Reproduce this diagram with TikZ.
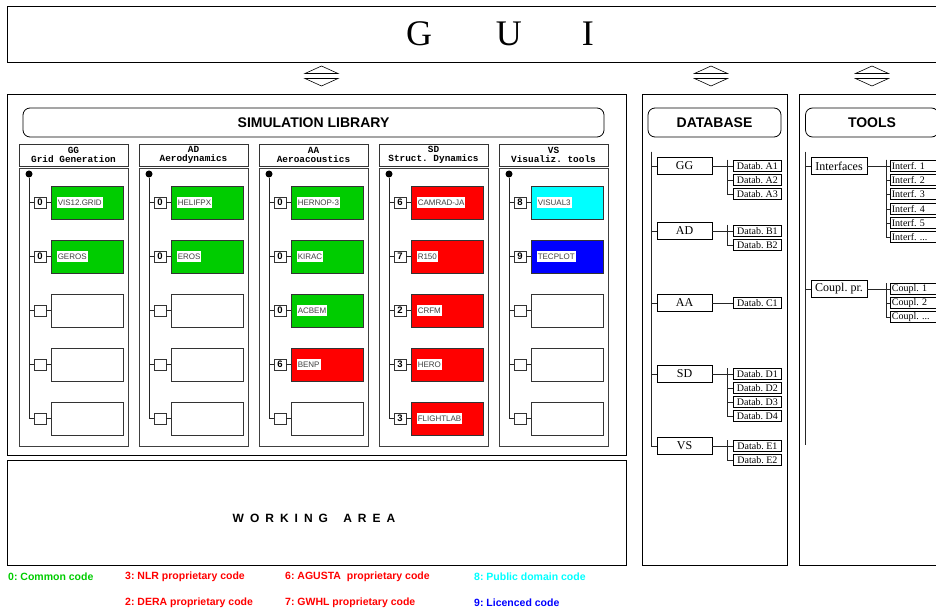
\documentclass[tikz,border=0pt]{standalone}
\usepackage{fontspec}
\setmainfont{Liberation Serif}
\newfontfamily\hv{Liberation Sans}
\newfontfamily\cour{Liberation Mono}
\definecolor{cgreen}{RGB}{0,204,0}
\definecolor{cred}{RGB}{255,0,0}
\definecolor{ccyan}{RGB}{0,255,255}
\definecolor{cblue}{RGB}{0,0,255}
\newcommand\wsp{\kern6pt\relax}
\newcommand\libcol[2]{%
  \node[hdr] (h#1) at ({73.5+120*#1},155) {#2};
  \node[colbody] (b#1) at ({73.5+120*#1},307.5) {};
  \node[dotn] (dot#1) at ({29+120*#1},174) {};}
\newcommand\fullentry[5]{%
  \node[codebox] (q#1#2) at ({40+120*#1},{202.5+54*#2}) {#3};
  \node[progbox,fill=#5] (p#1#2) at ({87+120*#1},{202.5+54*#2}) {};
  \node[proglabel] (l#1#2) at ([xshift=6pt]p#1#2.west) {#4\hspace{8pt}};
  \draw[link] (dot#1) |- (q#1#2.west);
  \draw[link] (q#1#2.east) -- (p#1#2.west);}
\newcommand\emptyentry[2]{%
  \node[codebox] (q#1#2) at ({40+120*#1},{202.5+54*#2}) {};
  \node[progbox,fill=white] (p#1#2) at ({87+120*#1},{202.5+54*#2}) {};
  \draw[link] (dot#1) |- (q#1#2.west);
  \draw[link] (q#1#2.east) -- (p#1#2.west);}
\begin{document}
\frenchspacing
\begin{tikzpicture}[x=1pt,y=-1pt,
  bigframe/.style={draw=black, line width=0.9pt, inner sep=0pt, outer sep=0pt},
  titlebox/.style={draw=black, line width=0.8pt, rounded corners=7pt, minimum height=29pt, inner sep=0pt, font=\hv\bfseries\fontsize{14}{14}\selectfont},
  hdr/.style={draw=black!80, line width=0.9pt, minimum width=109pt, minimum height=22pt, inner sep=0pt, align=center, font=\cour\bfseries\fontsize{9.4}{9.5}\selectfont},
  colbody/.style={draw=black!75, line width=1pt, minimum width=109pt, minimum height=277pt, inner sep=0pt},
  dotn/.style={circle, fill=black, minimum size=7pt, inner sep=0pt},
  codebox/.style={draw=black!80, line width=0.9pt, fill=white, minimum width=12pt, minimum height=11pt, inner sep=0pt, font=\hv\bfseries\fontsize{9.5}{9.5}\selectfont},
  progbox/.style={draw=black!80, line width=0.9pt, minimum width=72pt, minimum height=33pt, inner sep=0pt},
  proglabel/.style={fill=white, anchor=west, inner xsep=1pt, inner ysep=0pt, minimum height=11pt, font=\hv\fontsize{8}{8}\selectfont, text=black!75},
  link/.style={draw=black!85, line width=0.8pt},
  grp/.style={draw=black, line width=0.8pt, minimum width=55pt, minimum height=17pt, inner sep=0pt, font=\fontsize{12}{12}\selectfont},
  subbox/.style={draw=black, line width=0.8pt, minimum width=48pt, minimum height=11pt, inner sep=0pt, anchor=west, font=\fontsize{10}{10}\selectfont},
  toolsub/.style={subbox, text width=45pt, inner xsep=1.5pt, align=left},
  legend/.style={anchor=west, inner sep=0pt, font=\hv\bfseries\fontsize{10.5}{10.5}\selectfont},
  updown/.style={draw=black, line width=0.6pt}]
\useasboundingbox (0,0) rectangle (936,612);
\clip (0,0) rectangle (936,612);

% GUI
\node[bigframe, minimum width=986pt, minimum height=56pt] (gui) at (500,34)
  {\fontsize{36}{36}\selectfont G\hspace{64pt}U\hspace{60pt}I};

% double arrows
\foreach \ax in {321.5,711,872}{
  \draw[updown] (\ax-16.5,73.5) -- (\ax,66) -- (\ax+16.5,73.5) -- cycle;
  \draw[updown] (\ax-16.5,78.5) -- (\ax+16.5,78.5) -- (\ax,86) -- cycle;
}

% main frames
\node[bigframe, minimum width=619pt, minimum height=361pt] (simlib) at (316.5,274.5) {};
\node[bigframe, minimum width=619pt, minimum height=105pt] (work) at (316.5,512.5) {};
\node[font=\hv\bfseries\fontsize{12}{12}\selectfont] (worktext) at (314,518)
  {W\wsp O\wsp R\wsp K\wsp I\wsp N\wsp G\wsp\ \wsp A\wsp R\wsp E\wsp A};
\node[bigframe, minimum width=145pt, minimum height=471pt] (db) at (714.5,329.5) {};
\node[bigframe, minimum width=146pt, minimum height=471pt] (tools) at (872,329.5) {};

% titles
\node[titlebox, minimum width=581pt] (simtitle) at (313.5,122.5) {SIMULATION LIBRARY};
\node[titlebox, minimum width=133pt] (dbtitle) at (714.5,122.5) {DATABASE};
\node[titlebox, minimum width=133pt] (tooltitle) at (872,122.5) {TOOLS};

% simulation library columns
\libcol{0}{GG\\Grid Generation}
\libcol{1}{AD\\Aerodynamics}
\libcol{2}{AA\\Aeroacoustics}
\libcol{3}{SD\\Struct. Dynamics}
\libcol{4}{VS\\Visualiz. tools}

\fullentry{0}{0}{0}{VIS12.GRID}{cgreen}
\fullentry{0}{1}{0}{GEROS}{cgreen}
\emptyentry{0}{2}
\emptyentry{0}{3}
\emptyentry{0}{4}

\fullentry{1}{0}{0}{HELIFPX}{cgreen}
\fullentry{1}{1}{0}{EROS}{cgreen}
\emptyentry{1}{2}
\emptyentry{1}{3}
\emptyentry{1}{4}

\fullentry{2}{0}{0}{HERNOP-3}{cgreen}
\fullentry{2}{1}{0}{KIRAC}{cgreen}
\fullentry{2}{2}{0}{ACBEM}{cgreen}
\fullentry{2}{3}{6}{BENP}{cred}
\emptyentry{2}{4}

\fullentry{3}{0}{6}{CAMRAD-JA}{cred}
\fullentry{3}{1}{7}{R150}{cred}
\fullentry{3}{2}{2}{CRFM}{cred}
\fullentry{3}{3}{3}{HERO}{cred}
\fullentry{3}{4}{3}{FLIGHTLAB}{cred}

\fullentry{4}{0}{8}{VISUAL3}{ccyan}
\fullentry{4}{1}{9}{TECPLOT}{cblue}
\emptyentry{4}{2}
\emptyentry{4}{3}
\emptyentry{4}{4}

% database tree
\coordinate (dbtop) at (651,152);
\node[grp] (gGG) at (684.5,166) {GG};
\node[grp] (gAD) at (684.5,231) {AD};
\node[grp] (gAA) at (684.5,303) {AA};
\node[grp] (gSD) at (684.5,374) {SD};
\node[grp] (gVS) at (684.5,446) {VS};
\foreach \g in {GG,AD,AA,SD,VS}{\draw[link] (dbtop) |- (g\g.west);}

\node[subbox] (dA1) at (733,166) {Datab. A1};
\node[subbox] (dA2) at (733,180) {Datab. A2};
\node[subbox] (dA3) at (733,194) {Datab. A3};
\node[subbox] (dB1) at (733,231) {Datab. B1};
\node[subbox] (dB2) at (733,245) {Datab. B2};
\node[subbox] (dC1) at (733,303) {Datab. C1};
\node[subbox] (dD1) at (733,374) {Datab. D1};
\node[subbox] (dD2) at (733,388) {Datab. D2};
\node[subbox] (dD3) at (733,402) {Datab. D3};
\node[subbox] (dD4) at (733,416) {Datab. D4};
\node[subbox] (dE1) at (733,446) {Datab. E1};
\node[subbox] (dE2) at (733,460) {Datab. E2};

\draw[link] (gGG.east) -- (dA1.west);
\draw[link] (gAD.east) -- (dB1.west);
\draw[link] (gAA.east) -- (dC1.west);
\draw[link] (gSD.east) -- (dD1.west);
\draw[link] (gVS.east) -- (dE1.west);
\coordinate (brA) at (727,160);
\coordinate (brB) at (727,225);
\coordinate (brD) at (727,368);
\coordinate (brE) at (727,440);
\foreach \s in {A1,A2,A3}{\draw[link] (brA) |- (d\s.west);}
\foreach \s in {B1,B2}{\draw[link] (brB) |- (d\s.west);}
\foreach \s in {D1,D2,D3,D4}{\draw[link] (brD) |- (d\s.west);}
\foreach \s in {E1,E2}{\draw[link] (brE) |- (d\s.west);}

% tools tree
\coordinate (ttop) at (805,152);
\coordinate (tbot) at (805,445);
\draw[link] (ttop) -- (tbot);
\node[grp, minimum width=56pt] (tIF) at (839,166) {Interfaces};
\node[grp, minimum width=56pt] (tCP) at (839,289) {Coupl. pr.};
\draw[link] (ttop) |- (tIF.west);
\draw[link] (ttop) |- (tCP.west);

\node[toolsub] (i1) at (890,166) {Interf. 1};
\node[toolsub] (i2) at (890,180) {Interf. 2};
\node[toolsub] (i3) at (890,194) {Interf. 3};
\node[toolsub] (i4) at (890,209) {Interf. 4};
\node[toolsub] (i5) at (890,223) {Interf. 5};
\node[toolsub] (i6) at (890,237) {Interf. ...};
\node[toolsub] (c1) at (890,289) {Coupl. 1};
\node[toolsub] (c2) at (890,303) {Coupl. 2};
\node[toolsub] (c3) at (890,317) {Coupl. ...};
\draw[link] (tIF.east) -- (i1.west);
\draw[link] (tCP.east) -- (c1.west);
\coordinate (brI) at (886,160);
\coordinate (brC) at (886,283);
\foreach \s in {i1,i2,i3,i4,i5,i6}{\draw[link] (brI) |- (\s.west);}
\foreach \s in {c1,c2,c3}{\draw[link] (brC) |- (\s.west);}

% legend
\node[legend, text=cgreen] (lg0) at (8,577) {0: Common code};
\node[legend, text=cred] (lg3) at (125,577) {3: NLR proprietary code};
\node[legend, text=cred] (lg6) at (285,577) {6: AGUSTA\ \ proprietary code};
\node[legend, text=ccyan] (lg8) at (474,577) {8: Public domain code};
\node[legend, text=cred] (lg2) at (125,603) {2: DERA proprietary code};
\node[legend, text=cred] (lg7) at (285,603) {7: GWHL proprietary code};
\node[legend, text=cblue] (lg9) at (474,603) {9: Licenced code};
\end{tikzpicture}
\end{document}
